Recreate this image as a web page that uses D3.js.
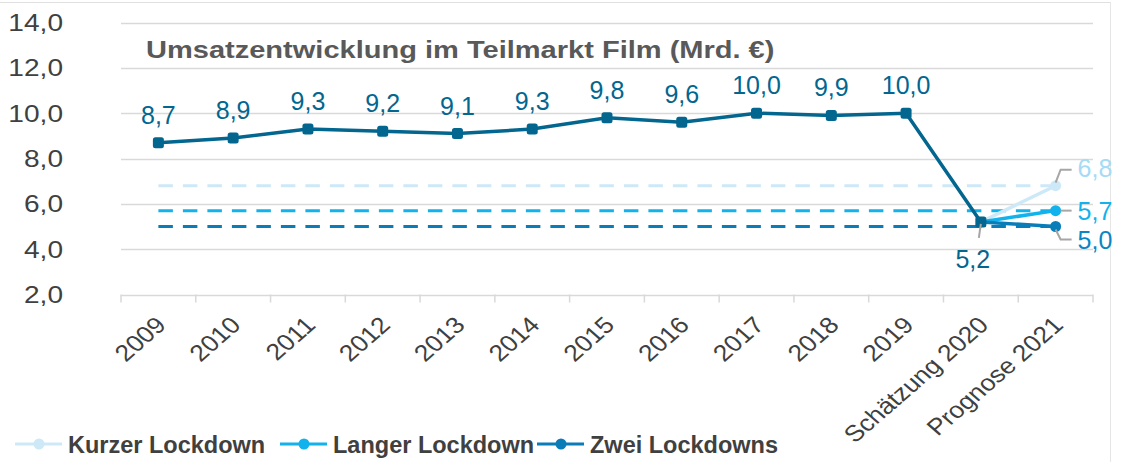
<!DOCTYPE html>
<html>
<head>
<meta charset="utf-8">
<script src="https://cdn.jsdelivr.net/npm/d3@7"></script>
<style>
  body { margin: 0; background: #fff; }
  svg { display: block; font-family: "Liberation Sans", Arial, sans-serif; }
</style>
</head>
<body>
<svg id="chart" width="1122" height="462"></svg>
<script>
// Daten
const categories = ["2009", "2010", "2011", "2012", "2013", "2014", "2015", "2016", "2017", "2018", "2019", "Schätzung 2020", "Prognose 2021"];
const historie = [8.7, 8.9, 9.3, 9.2, 9.1, 9.3, 9.8, 9.6, 10.0, 9.9, 10.0, 5.2];
const kurzerLockdown = [5.2, 6.8];
const langerLockdown = [5.2, 5.7];
const zweiLockdowns = [5.2, 5.0];
const yTicks = [2, 4, 6, 8, 10, 12, 14];
const seriesNames = ["Kurzer Lockdown", "Langer Lockdown", "Zwei Lockdowns"];

const colHist = "#02668f";
const colKurz = "#cde9f8";
const colLang = "#12b2ec";
const colZwei = "#0a7db8";
const textCol = "#404040";
const fmt = v => v.toFixed(1).replace(".", ",");

const svg = d3.select("#chart");

// Rahmen oben/rechts
svg.append("line").attr("x1", 0).attr("x2", 1110).attr("y1", 2.5).attr("y2", 2.5)
  .attr("stroke", "#e0e0e0").attr("stroke-width", 1);
svg.append("line").attr("x1", 1110.5).attr("x2", 1110.5).attr("y1", 2).attr("y2", 462)
  .attr("stroke", "#e6e6e6").attr("stroke-width", 1);

const x = d3.scaleBand().domain(categories).range([121, 1093]);
const cx = c => x(c) + x.bandwidth() / 2;
const y = d3.scaleLinear().domain([2, 14]).range([294.5, 22.5]);

// Gitter
svg.append("g").selectAll("line").data(yTicks.slice(1)).join("line")
  .attr("x1", 121).attr("x2", 1093)
  .attr("y1", d => Math.round(y(d)) + 0.5).attr("y2", d => Math.round(y(d)) + 0.5)
  .attr("stroke", "#d9d9d9").attr("stroke-width", 1.5);

// Y-Achse (leicht gestreckte Schrift wie im Original)
svg.append("g").selectAll("text").data(yTicks).join("text")
  .attr("transform", d => `translate(63,${y(d)}) scale(1.17,1)`)
  .attr("text-anchor", "end").attr("dy", "0.36em")
  .attr("font-size", 24).attr("fill", textCol)
  .text(fmt);

// X-Achse
svg.append("line").attr("x1", 121).attr("x2", 1093)
  .attr("y1", Math.round(y(2)) + 0.5).attr("y2", Math.round(y(2)) + 0.5)
  .attr("stroke", "#d9d9d9").attr("stroke-width", 1.5);
const bounds = categories.map(c => x(c)).concat([x(categories[categories.length - 1]) + x.bandwidth()]);
svg.append("g").selectAll("line").data(bounds).join("line")
  .attr("x1", d => d).attr("x2", d => d)
  .attr("y1", y(2)).attr("y2", y(2) + 8)
  .attr("stroke", "#d9d9d9").attr("stroke-width", 1.5);
svg.append("g").selectAll("text").data(categories).join("text")
  .attr("transform", c => `translate(${cx(c) + 9},${y(2) + 32}) scale(1.15,1) rotate(-45)`)
  .attr("text-anchor", "end")
  .attr("font-size", 23).attr("fill", textCol)
  .text(c => c);

// Titel
svg.append("text")
  .attr("transform", "translate(146,58) scale(1.21,1)")
  .attr("font-size", 24).attr("font-weight", "bold").attr("fill", "#595959")
  .text("Umsatzentwicklung im Teilmarkt Film (Mrd. €)");

// Gestrichelte Referenzlinien
const refs = [
  { v: kurzerLockdown[1], c: colKurz },
  { v: langerLockdown[1], c: colLang },
  { v: zweiLockdowns[1], c: colZwei }
];
svg.append("g").selectAll("line").data(refs).join("line")
  .attr("x1", cx(categories[0])).attr("x2", cx(categories[12]))
  .attr("y1", d => y(d.v)).attr("y2", d => y(d.v))
  .attr("stroke", d => d.c).attr("stroke-width", 3)
  .attr("stroke-dasharray", "14.5,10");

const line = d3.line().x(d => cx(d.c)).y(d => y(d.v));

// Szenarien
const scen = [
  { vals: kurzerLockdown, c: colKurz },
  { vals: langerLockdown, c: colLang },
  { vals: zweiLockdowns, c: colZwei }
];
scen.forEach(s => {
  const pts = s.vals.map((v, i) => ({ c: categories[11 + i], v }));
  svg.append("path").datum(pts).attr("d", line)
    .attr("fill", "none").attr("stroke", s.c).attr("stroke-width", 3.5);
  svg.append("circle").attr("cx", cx(pts[1].c)).attr("cy", y(pts[1].v)).attr("r", 5.5)
    .attr("fill", s.c);
});

// Historische Linie
const histPts = historie.map((v, i) => ({ c: categories[i], v }));
svg.append("path").datum(histPts).attr("d", line)
  .attr("fill", "none").attr("stroke", colHist).attr("stroke-width", 3.5);
svg.append("g").selectAll("rect").data(histPts).join("rect")
  .attr("x", d => cx(d.c) - 5.5).attr("y", d => y(d.v) - 5.5)
  .attr("width", 11).attr("height", 11).attr("rx", 2.5)
  .attr("fill", colHist);

// Datenbeschriftungen
svg.append("g").selectAll("text").data(histPts.slice(0, 11)).join("text")
  .attr("x", d => cx(d.c)).attr("y", d => y(d.v) - 19)
  .attr("text-anchor", "middle").attr("font-size", 25).attr("fill", colHist)
  .text(d => fmt(d.v));

const lastCat = categories[12];
const lx = cx(lastCat);
const px20 = cx(categories[11]);
// Führungslinien
const leaders = [
  [[lx, y(6.8) - 3], [lx + 5, y(6.8) - 16], [lx + 16, y(6.8) - 16]],
  [[lx + 5, y(5.7)], [lx + 16, y(5.7)]],
  [[lx, y(5.0) + 3], [lx + 5, y(5.0) + 13], [lx + 16, y(5.0) + 13]],
  [[px20, y(5.2) + 2], [px20 - 2, y(5.2) + 16]]
];
svg.append("g").selectAll("path").data(leaders).join("path")
  .attr("d", d => d3.line()(d))
  .attr("fill", "none").attr("stroke", "#a6a6a6").attr("stroke-width", 2);

const endLabels = [
  { v: kurzerLockdown[1], c: "#a6dbf5", dy: -18 },
  { v: langerLockdown[1], c: colLang, dy: 0 },
  { v: zweiLockdowns[1], c: "#0a86c4", dy: 13 }
];
svg.append("g").selectAll("text").data(endLabels).join("text")
  .attr("x", lx + 22).attr("y", d => y(d.v) + d.dy).attr("dy", "0.36em")
  .attr("font-size", 25).attr("fill", d => d.c)
  .text(d => fmt(d.v));
svg.append("text").attr("x", px20 - 8).attr("y", y(5.2) + 46)
  .attr("text-anchor", "middle").attr("font-size", 25).attr("fill", colHist)
  .text(fmt(historie[11]));

// Legende
const legCols = [colKurz, colLang, colZwei];
const legX = [15, 280, 537];
const leg = svg.append("g").selectAll("g").data(seriesNames).join("g")
  .attr("transform", (d, i) => `translate(${legX[i]},444)`);
leg.append("line").attr("x1", 0).attr("x2", 47).attr("stroke", (d, i) => legCols[i]).attr("stroke-width", 3);
leg.append("circle").attr("cx", 24).attr("r", 5.5).attr("fill", (d, i) => legCols[i]);
leg.append("text").attr("x", 53).attr("y", 9)
  .attr("font-size", 23.5).attr("font-weight", "bold").attr("fill", textCol)
  .text(d => d);
</script>
</body>
</html>
